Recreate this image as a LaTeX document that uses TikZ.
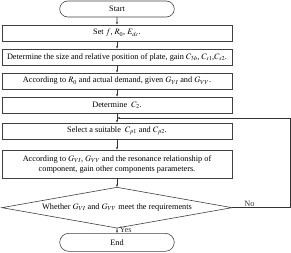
\documentclass[tikz,border=0pt]{standalone}
\usepackage{mathptmx}
\usepackage{fontspec}
\setmainfont{Liberation Serif}
\usepackage{tikz}
\usetikzlibrary{positioning,shapes.geometric,shapes.misc,arrows.meta,calc}

\begin{document}
\begin{tikzpicture}[
  x=1pt, y=1pt,
  node distance=12pt,
  block/.style={draw=black!75, line width=0.9pt, rectangle, outer sep=0pt,
                minimum width=345pt, minimum height=24pt,
                font=\fontsize{12.4}{15}\selectfont, align=center, inner sep=2pt},
  startstop/.style={draw=black!75, line width=0.9pt, rounded rectangle, outer sep=0pt,
                minimum width=178.5pt, minimum height=24pt,
                font=\fontsize{12.4}{15}\selectfont},
  decision/.style={draw=black!75, line width=0.9pt, diamond, aspect=5.75, outer sep=0pt,
                minimum width=345pt, minimum height=61pt,
                inner xsep=-60pt, inner ysep=-4pt,
                font=\fontsize{12.4}{15}\selectfont},
  arrow/.style={-{Latex[length=4pt,width=3pt]}, line width=0.9pt, black!80}
]
  \useasboundingbox (-175.5,13.5) rectangle (261,-366);

  \node[startstop] (start) {Start};
  \node[block, below=of start] (set) {Set $f$, $R_0$, $E_{dc}$.};
  \node[block, below=of set] (size) {Determine the size and relative position of plate, gain $C_{3b}$, $C_{s1}$,$C_{s2}$.};
  \node[block, below=of size] (demand) {According to $R_0$ and actual demand, given $G_{VI}$ and $G_{VV}$.};
  \node[block, below=of demand] (ctwo) {Determine\ \ $C_2$.};
  \node[block, below=15pt of ctwo] (select) {Select a suitable\ \ $C_{p1}$ and $C_{p2}$.};
  \node[block, below=16.5pt of select, minimum height=42pt] (param)
    {According to $G_{VI}$, $G_{VV}$ and the resonance relationship of\\component, gain other components parameters.};
  \node[decision, below=14pt of param] (check) {Whether $G_{VI}$ and $G_{VV}$ meet the requirements};
  \node[startstop, below=8pt of check, minimum height=27pt] (end) {End};

  % main flow
  \draw[arrow] (start) -- (set);
  \draw[arrow] (set) -- (size);
  \draw[arrow] (size) -- (demand);
  \draw[arrow] (demand) -- (ctwo);
  \draw[arrow] (ctwo) -- (select);
  \draw[arrow] (select) -- (param);
  \draw[arrow] (param) -- (check);
  \draw[arrow] (check) -- node[pos=0.35, right, font=\fontsize{12.4}{15}\selectfont]{Yes} (end);

  % loop back
  \coordinate (merge) at ($(ctwo.south)!0.5!(select.north)$);
  \draw[arrow] (check.east) -- node[pos=0.3, above, inner sep=1pt, font=\fontsize{12.4}{15}\selectfont]{No} ++(87,0) |- (merge);
\end{tikzpicture}
\end{document}
